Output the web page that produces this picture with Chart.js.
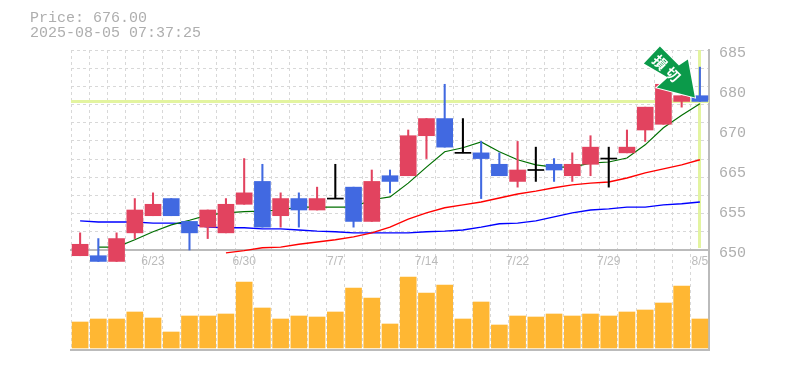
<!DOCTYPE html>
<html>
<head>
<meta charset="utf-8">
<style>
  html, body { margin: 0; padding: 0; background: #fff; }
  #wrap { position: relative; width: 785px; height: 370px; overflow: hidden; }
  #head { position: absolute; left: 30px; top: 11px; font: 15px/15px 'Liberation Mono', monospace; color: #aeaeae; white-space: pre; }
</style>
<script src="https://cdn.jsdelivr.net/npm/chart.js@4/dist/chart.umd.min.js"></script>
</head>
<body>
<div id="wrap">
  <canvas id="main-chart" width="785" height="370"></canvas>
  <div id="head">Price: 676.00
2025-08-05 07:37:25</div>
</div>
<script>
const dates = ['6/17','6/18','6/19','6/20','6/23','6/24','6/25','6/26','6/27','6/30','7/1','7/2','7/3','7/4','7/7','7/8','7/9','7/10','7/11','7/14','7/15','7/16','7/17','7/18','7/22','7/23','7/24','7/25','7/28','7/29','7/30','7/31','8/1','8/4','8/5'];
const shownDates = ['6/23','6/30','7/7','7/14','7/22','7/29','8/5'];

const open  = [649,649,648,653,656,659,655,654,653,658,662,656,659,657,659,661,655,663,663,670,673,667,667,665,662,664,665,663,665,666,667,671,672,676,677];
const high  = [653,652,653,659,660,659,655,657,659,666,665,660,660,661,665,661,664,664,671,673,679,673,669,667,669,668,666,667,670,668,671,675,679,677,682];
const low   = [649,648,648,652,656,656,650,652,653,658,654,654,654,657,659,654,655,660,663,666,668,667,659,663,661,662,662,662,663,661,667,669,672,675,676];
const close = [651,648,652,657,658,656,653,657,658,660,654,659,657,659,659,655,662,662,670,673,668,667,666,663,664,664,664,665,668,666,668,675,679,677,676];

const maShort = [null,650.5,650.5,651.8,653.2,654.4,655.2,656.1,656.5,656.7,656.8,657,657.5,657.5,657.5,657.5,658.8,659.3,661.7,664.5,667.2,667.9,668.9,667.2,665.8,664.9,664.5,664.5,665.2,665.4,666.1,668.4,671.4,673.6,675.6];
const maMid   = [null,null,null,null,null,null,null,null,649.5,649.9,650.4,650.5,651,651.4,651.8,652.3,653,654,655.4,656.5,657.4,657.9,658.4,659.1,659.8,660.3,660.9,661.4,661.7,661.9,662.6,663.5,664.2,664.9,665.8];
const maLong  = [655.1,654.9,654.9,654.9,654.7,654.7,654.6,654,653.9,653.9,653.7,653.7,653.5,653.3,653.2,653,653,653,653,653.2,653.3,653.5,654,654.6,654.7,655.1,655.8,656.5,657,657.2,657.5,657.5,657.9,658.1,658.4];
const volume  = [26,29,29,36,30,16,32,32,34,66,40,29,32,31,36,60,50,24,71,55,63,29,46,23,32,31,34,32,34,32,36,38,45,62,29];

const priceMax = 685, priceMin = 650;
// the labels sit a little under their nominal level, and are rounded in the source
const priceTicks = [684.5,677.5,670.5,663.5,656.5,649.5];
const priceTickLabels = ['685','680','670','665','655','650'];
const gridCount = 11;
const currentPrice = 676;

const RED = '#E2435F', BLUE = '#4169E1', BLACK = '#000000', AMBER = '#FFB733';
const GRID = '#d8d8d8', AXIS = '#bbbbbb', MARK = '#E3F4A0', ARROW = '#0B9A4A';

const candleColor = open.map((o, i) => close[i] > o ? RED : close[i] < o ? BLUE : BLACK);
const bodies = open.map((o, i) => o === close[i] ? [o - 0.09, o + 0.09] : [Math.min(o, close[i]), Math.max(o, close[i])]);
const wicks = low.map((l, i) => [l, high[i]]);

// arrow outline, relative to its tip
const arrowShape = [[-35,-51],[-16,-32],[-7,-38],[0,0],[-38,-10],[-27,-20],[-51,-34]];
const arrowText = [['損',-35,-35],['切',-22,-23]];

const marks = {
  id: 'marks',
  beforeDatasetsDraw(c) {
    const { ctx, chartArea: a, scales } = c;
    const y = Math.floor(scales.yPrice.getPixelForValue(currentPrice)) + 0.5;
    const x = Math.floor(scales.x.getPixelForValue(dates.length - 1)) + 0.5;
    ctx.save();
    ctx.strokeStyle = MARK;
    ctx.lineWidth = 3;
    ctx.beginPath();
    ctx.moveTo(a.left, y); ctx.lineTo(a.right, y);
    ctx.moveTo(x, a.top); ctx.lineTo(x, scales.yPrice.bottom - 2);
    ctx.stroke();
    ctx.restore();
  },
  afterDatasetsDraw(c) {
    const { ctx, chartArea: a, scales } = c;
    ctx.save();
    // bottom frame
    ctx.strokeStyle = AXIS;
    ctx.lineWidth = 2;
    ctx.beginPath();
    ctx.moveTo(a.left - 1, a.bottom); ctx.lineTo(a.right + 1, a.bottom);
    ctx.stroke();
    // stop-loss arrow
    const tx = scales.x.getPixelForValue(dates.length - 1) - 5;
    const ty = scales.yPrice.getPixelForValue(currentPrice) - 4;
    ctx.beginPath();
    arrowShape.forEach(([dx, dy], i) => i ? ctx.lineTo(tx + dx, ty + dy) : ctx.moveTo(tx + dx, ty + dy));
    ctx.closePath();
    ctx.lineJoin = 'miter';
    ctx.strokeStyle = '#fff';
    ctx.lineWidth = 2;
    ctx.stroke();
    ctx.fillStyle = ARROW;
    ctx.fill();
    ctx.fillStyle = '#fff';
    ctx.font = 'bold 14px "Noto Sans CJK JP"';
    ctx.textAlign = 'center';
    ctx.textBaseline = 'middle';
    arrowText.forEach(([t, dx, dy]) => {
      ctx.save();
      ctx.translate(tx + dx, ty + dy);
      ctx.rotate(Math.PI / 4);
      ctx.fillText(t, 0, 0);
      ctx.restore();
    });
    ctx.restore();
  }
};

const line = (label, data, color, width) => ({
  type: 'line', label, data,
  borderColor: color, borderWidth: width,
  pointRadius: 0, tension: 0, spanGaps: false,
  yAxisID: 'yPrice', order: 5, clip: false
});

new Chart(document.getElementById('main-chart'), {
  data: {
    labels: dates,
    datasets: [
      line('MA short', maShort, '#006F00', 1.2),
      line('MA mid', maMid, '#FF0000', 1.4),
      line('MA long', maLong, '#0000FF', 1.4),
      { type: 'bar', label: 'Wick', data: wicks, backgroundColor: candleColor, barThickness: 1.4, grouped: false, yAxisID: 'yPrice', order: 2, clip: false },
      { type: 'bar', label: 'Body', data: bodies, backgroundColor: candleColor, barThickness: 16, grouped: false, yAxisID: 'yPrice', order: 1, clip: false },
      { type: 'bar', label: 'Volume', data: volume, backgroundColor: AMBER, barThickness: 16, grouped: false, yAxisID: 'yVol', order: 3 }
    ]
  },
  plugins: [marks],
  options: {
    responsive: false,
    animation: false,
    layout: { padding: { left: 71, top: 50, bottom: 20, right: 0 } },
    plugins: { legend: { display: false }, tooltip: { enabled: false } },
    scales: {
      x: {
        type: 'category',
        offset: true,
        position: { yPrice: priceMin },
        grid: { offset: true, color: GRID, lineWidth: 1, drawTicks: false },
        border: { color: AXIS, width: 2, dash: [3, 3] },
        ticks: {
          autoSkip: false, maxRotation: 0, padding: 4, color: '#bbbbbb',
          font: { family: 'Liberation Sans', size: 12 },
          callback(v) { const l = this.getLabelForValue(v); return shownDates.includes(l) ? l : ''; }
        }
      },
      yPrice: {
        type: 'linear', position: 'right', min: priceMin, max: priceMax,
        stack: 'panels', stackWeight: 2, weight: 1,
        afterBuildTicks(s) {
          const grid = [];
          for (let i = 0; i <= gridCount; i++) grid.push({ value: priceMax - i * (priceMax - priceMin) / gridCount });
          s.ticks = grid.concat(priceTicks.map(v => ({ value: v })));
        },
        afterFit(s) { s.width = 76; },
        grid: {
          drawTicks: false, lineWidth: 1,
          color: ctx => ctx.tick && ctx.tick.label ? 'rgba(0,0,0,0)' : GRID
        },
        border: { color: AXIS, width: 2, dash: [3, 3] },
        ticks: {
          autoSkip: false, padding: 10, color: '#aeaeae',
          font: { family: 'Liberation Mono', size: 15 },
          callback(v) { const i = priceTicks.indexOf(v); return i < 0 ? '' : priceTickLabels[i]; }
        }
      },
      yVol: {
        type: 'linear', position: 'right', min: -2, max: 98,
        stack: 'panels', stackWeight: 1, weight: 2,
        afterFit(s) { s.width = 76; },
        grid: { display: false },
        border: { color: AXIS, width: 2 },
        ticks: { display: false }
      }
    }
  }
});
</script>
</body>
</html>
